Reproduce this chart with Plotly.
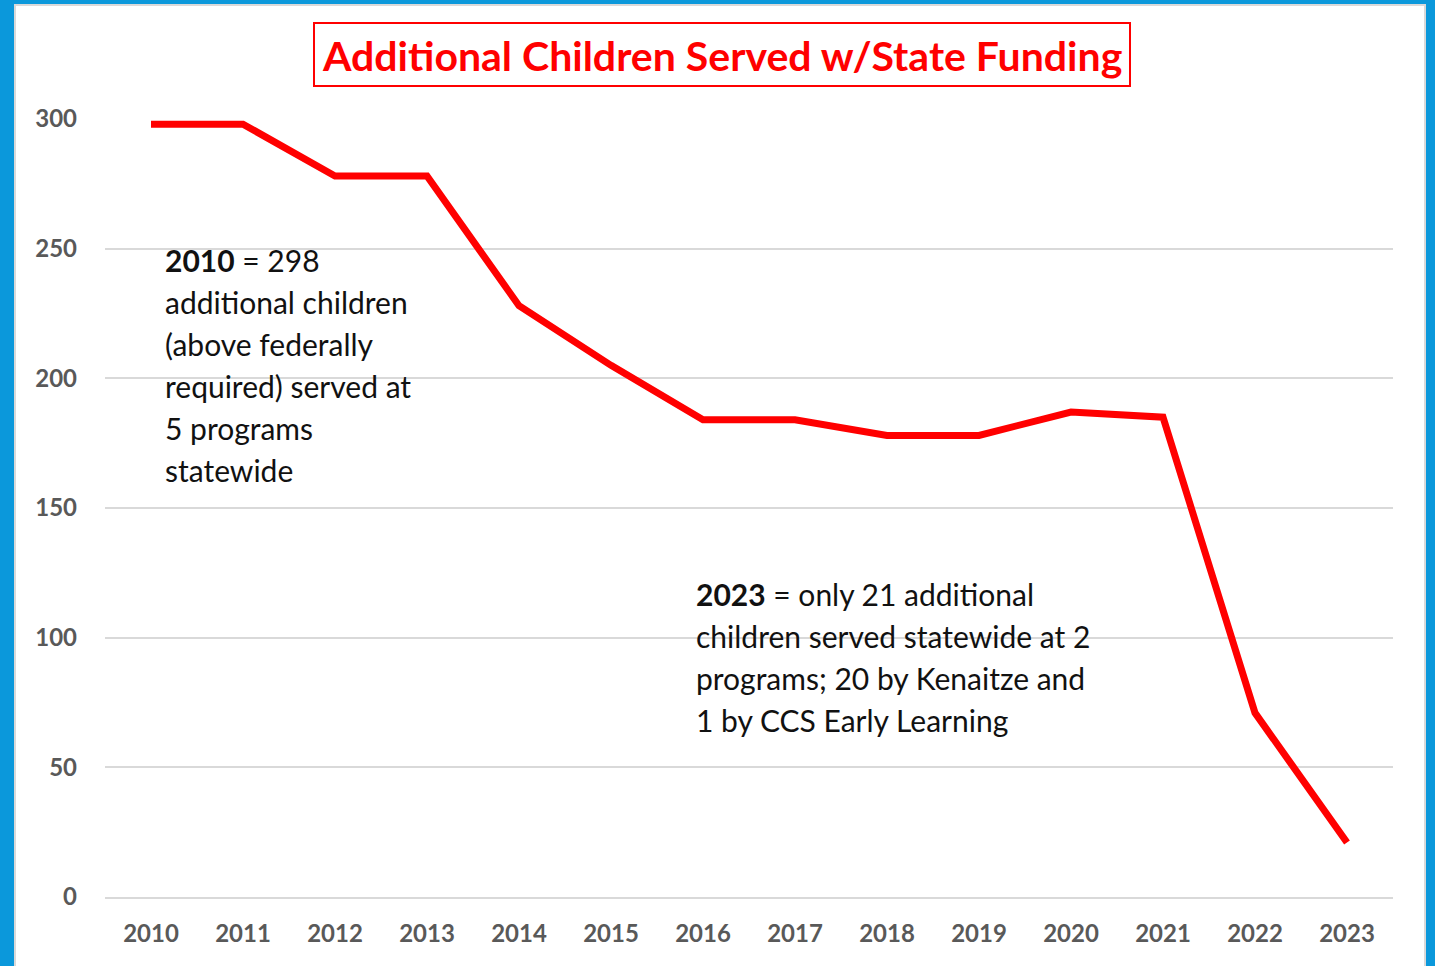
import plotly.graph_objects as go

# ── Dados ────────────────────────────────────────────────────────────────────
anos = ["2010", "2011", "2012", "2013", "2014", "2015", "2016",
        "2017", "2018", "2019", "2020", "2021", "2022", "2023"]
criancas = [298, 298, 278, 278, 228, 205, 184, 184, 178, 178, 187, 185, 71, 21]
y_ticks = [0, 50, 100, 150, 200, 250, 300]

titulo = "Additional Children Served w/State Funding"
nota_2010 = ["<b>2010</b> = 298", "additional children", "(above federally",
             "required) served at", "5 programs", "statewide"]
nota_2023 = ["<b>2023</b> = only 21 additional", "children served statewide at 2",
             "programs; 20 by Kenaitze and", "1 by CCS Early Learning"]

W, H = 1435, 966
L, R, T, B = 105, 1393, 119, 897   # área do gráfico em pixels


def px_x(px):
    return (px - L) / (R - L)


def px_y(py):
    return (B - py) / (B - T)


fig = go.Figure(go.Scatter(
    x=anos, y=criancas,
    mode="lines",
    line=dict(color="#ff0000", width=7),
    hoverinfo="x+y",
))

# moldura azul + fundo branco
fig.add_shape(type="rect", xref="paper", yref="paper", layer="below",
              x0=px_x(15), x1=px_x(1425), y0=px_y(970), y1=px_y(5),
              fillcolor="white", line=dict(color="#d9d9d9", width=2))

# caixa do título
fig.add_shape(type="rect", xref="paper", yref="paper",
              x0=px_x(314), x1=px_x(1130), y0=px_y(86), y1=px_y(23),
              fillcolor="rgba(0,0,0,0)", line=dict(color="#ff0000", width=2))
fig.add_annotation(text=f"<b>{titulo}</b>", xref="paper", yref="paper",
                   x=px_x(722), y=px_y(55), xanchor="center", yanchor="middle",
                   showarrow=False,
                   font=dict(family="Lato", size=41, color="#ff0000"))

for i, linha in enumerate(nota_2010):
    fig.add_annotation(text=linha, xref="paper", yref="paper",
                       x=px_x(163), y=px_y(260 + i * 42),
                       xanchor="left", yanchor="middle", showarrow=False,
                       font=dict(family="Lato", size=30, color="#111111"))

for i, linha in enumerate(nota_2023):
    fig.add_annotation(text=linha, xref="paper", yref="paper",
                       x=px_x(694), y=px_y(594 + i * 42),
                       xanchor="left", yanchor="middle", showarrow=False,
                       font=dict(family="Lato", size=30, color="#111111"))

fig.update_xaxes(
    type="category", range=[-0.5, len(anos) - 0.5],
    showgrid=False, zeroline=False, ticks="",
    showline=True, linecolor="#d9d9d9", linewidth=2,
    ticklabelstandoff=14,
    tickfont=dict(family="Lato", size=24, color="#595959", weight="bold"),
)
fig.update_yaxes(
    range=[0, 300], tickvals=y_ticks,
    showgrid=True, gridcolor="#d9d9d9", gridwidth=2,
    zeroline=False, showline=False, ticks="",
    ticklabelstandoff=27,
    tickfont=dict(family="Lato", size=24, color="#595959", weight="bold"),
)

fig.update_layout(
    width=W, height=H,
    margin=dict(l=L, r=W - R, t=T, b=H - B, autoexpand=False),
    paper_bgcolor="#0b98db",
    plot_bgcolor="white",
    showlegend=False,
    font_family="Lato",
)

# sem margem da página, para a figura ocupar a janela inteira
fig.write_html("out.html", config={"displayModeBar": False},
               post_script="document.body.style.margin='0';")
